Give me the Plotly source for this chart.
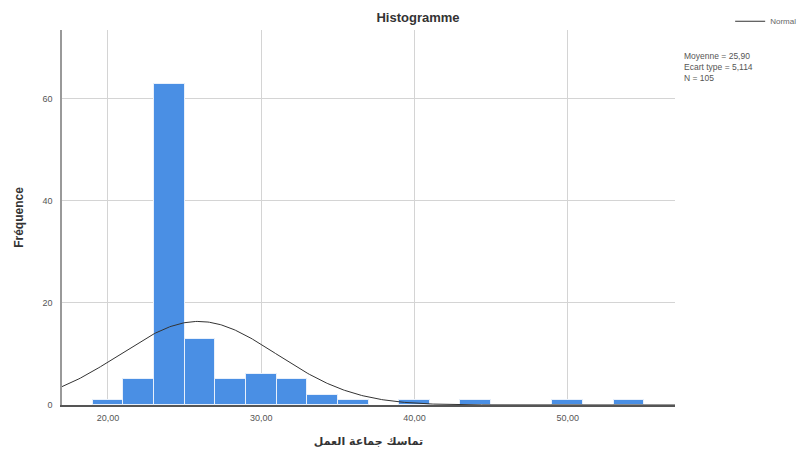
import numpy as np
import plotly.graph_objects as go

# Histogram data (bin width 2)
bin_starts = [19, 21, 23, 25, 27, 29, 31, 33, 35, 39, 43, 49, 53]
counts = [1, 5, 63, 13, 5, 6, 5, 2, 1, 1, 1, 1, 1]
bin_width = 2

mean_val = 25.90
sd_val = 5.114
n_val = 105

x_ticks = [20, 30, 40, 50]
x_ticklabels = ["20,00", "30,00", "40,00", "50,00"]
y_ticks = [0, 20, 40, 60]

x_range = [17.0, 57.0]
y_range = [0, 73.5]

centers = [s + bin_width / 2 for s in bin_starts]

xs = np.linspace(x_range[0], x_range[1], 400)
ys = n_val * bin_width / (sd_val * np.sqrt(2 * np.pi)) * np.exp(-0.5 * ((xs - mean_val) / sd_val) ** 2)

fig = go.Figure()
fig.add_trace(go.Bar(
    x=centers, y=counts, width=[bin_width] * len(centers),
    marker=dict(color="#4a8fe4", line=dict(color="#e8f0fb", width=1)),
    showlegend=False, hoverinfo="x+y",
))
fig.add_trace(go.Scatter(
    x=xs, y=ys, mode="lines", name="Normal",
    line=dict(color="#333333", width=1),
))

fig.update_layout(
    width=808, height=455,
    margin=dict(l=62, r=133, t=30, b=50, autoexpand=False),
    paper_bgcolor="white", plot_bgcolor="white",
    bargap=0,
    font=dict(family="Liberation Sans, Arial, sans-serif", color="#555555", size=9),
    title=dict(text="<b>Histogramme</b>", x=418 / 808, xanchor="center",
               y=1 - 17 / 455, yanchor="middle",
               font=dict(size=13, color="#333333")),
    showlegend=True,
    legend=dict(x=1.09, y=1.062, xanchor="left", yanchor="top",
                font=dict(size=8, color="#666666"), itemwidth=30,
                bgcolor="rgba(0,0,0,0)", borderwidth=0, tracegroupgap=0),
    xaxis=dict(
        range=x_range, tickvals=x_ticks, ticktext=x_ticklabels,
        showgrid=True, gridcolor="#d4d4d4", gridwidth=1,
        showline=True, linecolor="#555555", linewidth=1.5,
        ticks="outside", ticklen=3, tickcolor="white", zeroline=False,
        tickfont=dict(size=9, color="#555555"),
        title=dict(text="<b>تماسك جماعة العمل</b>",
                   font=dict(family="DejaVu Sans, sans-serif", size=11, color="#333333"),
                   standoff=16),
    ),
    yaxis=dict(
        range=y_range, tickvals=y_ticks,
        showgrid=True, gridcolor="#d4d4d4", gridwidth=1,
        showline=True, linecolor="#999999", linewidth=1.5,
        ticks="outside", ticklen=6, tickcolor="white",
        zeroline=False,
        tickfont=dict(size=9, color="#555555"),
        title=dict(text="<b>Fréquence</b>",
                   font=dict(size=12, color="#333333"), standoff=16),
    ),
)

stats_text = ("Moyenne = 25,90<br>Ecart type = 5,114<br>N = 105")
fig.add_annotation(
    x=1.012, y=0.95, xref="paper", yref="paper", xanchor="left", yanchor="top",
    text=stats_text, showarrow=False, align="left",
    font=dict(size=8.5, color="#555555"),
)

fig.write_html("out.html")
